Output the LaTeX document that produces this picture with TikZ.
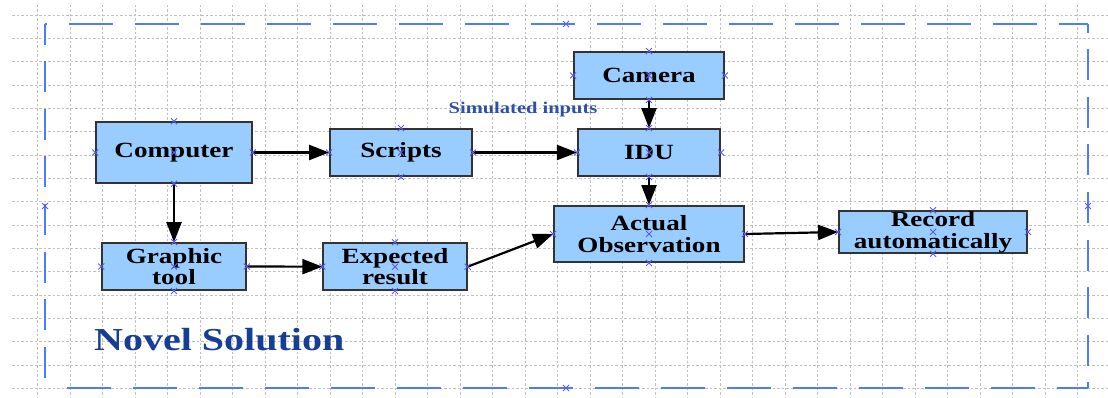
\documentclass[tikz,border=0pt]{standalone}
\usepackage{fontspec}
\setmainfont[FakeStretch=1.25]{Liberation Serif}
\usepackage{tikz}
\usetikzlibrary{arrows.meta}
\definecolor{boxblue}{HTML}{99CCFF}
\definecolor{frameblue}{HTML}{4D7BFF}
\definecolor{titleblue}{HTML}{163E96}
\definecolor{simblue}{HTML}{2E4FA6}
\definecolor{xblue}{HTML}{5A5AF0}

\begin{document}
\begin{tikzpicture}[x=1pt,y=-1pt,
  blk/.style={draw=black!80,line width=1.8pt,fill=boxblue,inner sep=0pt,align=center,
    font=\fontsize{21.7}{21.7}\selectfont\bfseries},
  arr/.style={line width=2.2pt,-{Triangle[length=20pt,width=15pt]}},
  gridln/.style={black!25,line width=0.8pt,dash pattern=on 2.5pt off 2pt},
  frame/.style={frameblue,line width=2.6pt},
  xm/.style={xblue,line width=0.9pt}]
  \useasboundingbox (0,0) rectangle (1108,398);
  % background grid
  \foreach \i in {0,...,32}
    \draw[gridln] ({37.7+32.5*\i},5) -- ({37.7+32.5*\i},398);
  \foreach \j in {0,...,16}
    \draw[gridln] (12,{15+23.33*\j}) -- (1108,{15+23.33*\j});
  % dashed frame
  \draw[frame,dash pattern=on 44pt off 22pt,dash phase=42pt] (45,24) -- (1088,24);
  \draw[frame,dash pattern=on 44pt off 22pt,dash phase=44pt] (45,388) -- (1088,388);
  \draw[frame,dash pattern=on 31pt off 16.5pt,dash phase=10pt] (45,24) -- (45,388);
  \draw[frame,dash pattern=on 31pt off 16.5pt,dash phase=22pt] (1088,24) -- (1088,388);
  % boxes
  \node[blk,minimum width=155.7pt,minimum height=60.7pt] (comp) at (174,152.5) {Computer};
  \node[blk,minimum width=142pt,minimum height=47pt] (scripts) at (401,152.5) {Scripts};
  \node[blk,minimum width=150pt,minimum height=47pt] (camera) at (649,75.5) {Camera};
  \node[blk,minimum width=142.3pt,minimum height=47pt] (idu) at (649,152.5) {IDU};
  \node[blk,minimum width=143.7pt,minimum height=47pt] (graphic) at (174,266.5) {Graphic\\tool};
  \node[blk,minimum width=143.4pt,minimum height=47pt] (expected) at (395,266.7) {Expected\\result};
  \node[blk,minimum width=190pt,minimum height=56pt] (actual) at (649,234) {Actual\\Observation};
  \node[blk,minimum width=188pt,minimum height=41.7pt] (record) at (933,232) {Record\\automatically};
  % labels
  \node[anchor=base,inner sep=0pt,text=simblue,font=\fontsize{16.4}{16.4}\selectfont\bfseries]
    (sim) at (523,113.3) {Simulated inputs};
  \node[anchor=base west,inner sep=0pt,text=titleblue,font=\fontsize{32}{32}\selectfont\bfseries]
    (title) at (94,350) {Novel Solution};
  % connectors
  \draw[arr] (comp.east) -- (scripts.west);
  \draw[arr] (scripts.east) -- (idu.west);
  \draw[arr] (camera.south) -- (idu.north);
  \draw[arr] (idu.south) -- (actual.north);
  \draw[arr] (comp.south) -- (graphic.north);
  \draw[arr] (graphic.east) -- (expected.west);
  \draw[arr] (expected.east) -- (actual.west);
  \draw[arr] (actual.east) -- (record.west);
  % connection point marks
  \foreach \n in {comp,scripts,camera,idu,graphic,expected,actual,record}
    \foreach \a in {center,north,south,east,west}
      \draw[xm] (\n.\a) +(-3,-3) -- +(3,3) +(-3,3) -- +(3,-3);
  \foreach \p in {(566,24),(566,388),(45,206),(1088,206)}
    \draw[xm] \p +(-3,-3) -- +(3,3) +(-3,3) -- +(3,-3);
\end{tikzpicture}
\end{document}
